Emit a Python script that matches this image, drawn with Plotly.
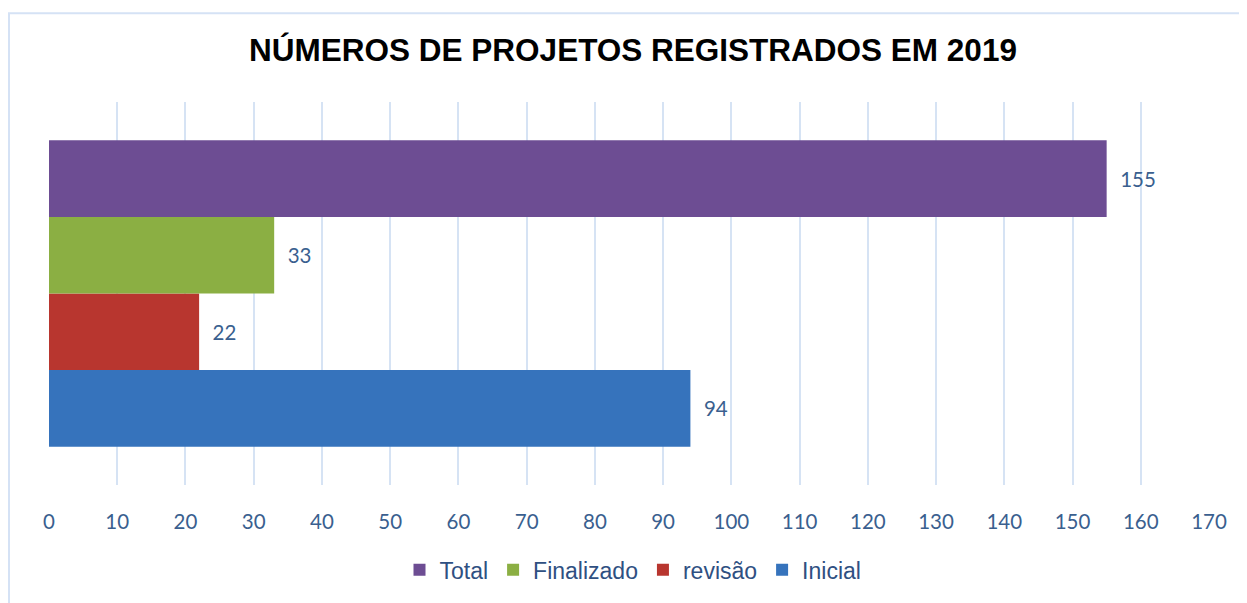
import plotly.graph_objects as go

category = ["2019"]
series_names = ["Inicial", "revisão", "Finalizado", "Total"]
series_values = [94, 22, 33, 155]
series_colors = ["#3673BC", "#B8362F", "#8BAF43", "#6D4D93"]
x_ticks = list(range(0, 171, 10))
title_text = "NÚMEROS DE PROJETOS REGISTRADOS EM 2019"

label_color = "#3A5F8F"
nb = "\u00a0\u00a0"

fig = go.Figure()
for name, val, col in zip(series_names, series_values, series_colors):
    fig.add_trace(go.Bar(
        y=category, x=[val], name=name, orientation="h",
        marker=dict(color=col, line=dict(width=0)),
        text=[f"{nb}{val}"], textposition="outside", cliponaxis=False,
        textfont=dict(family="Lato, Open Sans, sans-serif", size=20.5, color=label_color),
    ))

# page body has an 8px margin; figure coordinates = screen - 8
W, H = 1239, 595
L, R, T, B = 41, 38, 94, 113
pw, ph = W - L - R, H - T - B
off = 8

fig.update_layout(
    width=W, height=H,
    margin=dict(l=L, r=R, t=T, b=B),
    paper_bgcolor="white", plot_bgcolor="white",
    barmode="group", bargap=0.2, bargroupgap=0,
    title=dict(text=f"<b>{title_text}</b>", x=(633 - off) / W, xanchor="center",
               y=1 - (50 - off) / H, yanchor="middle",
               font=dict(family="Liberation Sans, Arial, sans-serif", size=31.5, color="#000000")),
    legend=dict(orientation="h", x=(633 - off - L) / pw, xanchor="center",
                y=(H - B - (576 - off)) / ph, yanchor="middle",
                traceorder="reversed",
                font=dict(family="Liberation Sans, Arial, sans-serif", size=23, color="#2F5082"),
                itemwidth=30),
    xaxis=dict(range=[0, 170], tickvals=x_ticks, showgrid=True,
               gridcolor="#D6E3F4", gridwidth=2, zeroline=False, showline=False,
               ticks="", ticklabelstandoff=22,
               tickfont=dict(family="Lato, Open Sans, sans-serif", size=20.5, color=label_color)),
    yaxis=dict(showticklabels=False, showgrid=False, zeroline=False, showline=False, ticks=""),
    showlegend=True,
    shapes=[dict(type="rect", xref="paper", yref="paper",
                 x0=(9 - off - L) / pw, x1=(W + 10 - L) / pw,
                 y0=(H - B - (H + 10)) / ph, y1=(H - B - (12 - off)) / ph,
                 line=dict(color="#D5E2F5", width=2), fillcolor="rgba(0,0,0,0)", layer="below")],
)

fig.write_html("out.html")
